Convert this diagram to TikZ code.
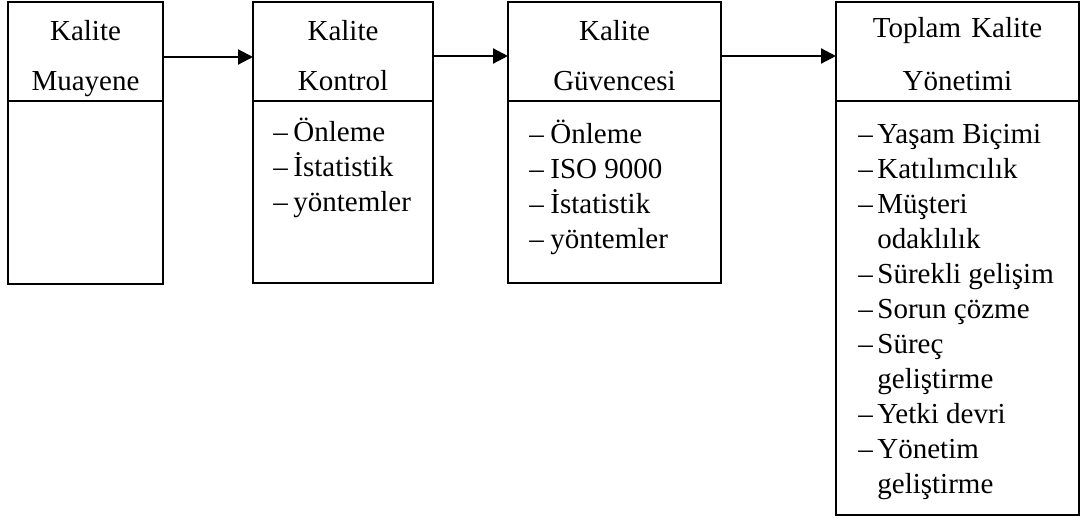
\documentclass[tikz,border=0pt]{standalone}
\usepackage{fontspec}
\setmainfont{Liberation Serif}
\usetikzlibrary{arrows.meta}

\begin{document}
\begin{tikzpicture}[x=0.5pt,y=-0.5pt,
  panel/.style={draw, line width=1.1pt, inner sep=0pt, outer sep=0pt, anchor=north west},
  txt/.style={inner sep=0pt, font=\fontsize{14.5}{17.5}\selectfont},
  head/.style={txt, anchor=base},
  item/.style={txt, anchor=base west},
  flow/.style={line width=1.1pt, -{Triangle[length=7.5pt,width=7.5pt]}}]
\useasboundingbox (0,0) rectangle (1083,520);

% stage boxes: heading part and body part
\node[panel, minimum width=77.5pt,  minimum height=49.5pt]  (t1) at (8,2)   {};
\node[panel, minimum width=77.5pt,  minimum height=91.5pt]  (b1) at (8,101) {};
\node[panel, minimum width=90pt,    minimum height=49.5pt]  (t2) at (253,2)   {};
\node[panel, minimum width=90pt,    minimum height=91pt]    (b2) at (253,101) {};
\node[panel, minimum width=106.5pt, minimum height=49.5pt]  (t3) at (508,2)   {};
\node[panel, minimum width=106.5pt, minimum height=91pt]    (b3) at (508,101) {};
\node[panel, minimum width=121.5pt, minimum height=49.5pt]  (t4) at (836,2)   {};
\node[panel, minimum width=121.5pt, minimum height=207pt]   (b4) at (836,101) {};

% headings
\node[head] (h1a) at (85.5,40) {Kalite};
\node[head] (h1b) at (85.5,90) {Muayene};
\node[head] (h2a) at (343,40) {Kalite};
\node[head] (h2b) at (343,90) {Kontrol};
\node[head] (h3a) at (614.5,40) {Kalite};
\node[head] (h3b) at (614.5,90) {Güvencesi};
\node[head] (h4a) at (957.5,37) {Toplam\hspace{0.35em}Kalite};
\node[head] (h4b) at (957.5,90) {Yönetimi};

% Kalite Kontrol
\node[item] (d2a) at (273,141) {–};  \node[item] (i2a) at (293,141) {Önleme};
\node[item] (d2b) at (273,176) {–};  \node[item] (i2b) at (293,176) {İstatistik};
\node[item] (d2c) at (273,211) {–};  \node[item] (i2c) at (293,211) {yöntemler};

% Kalite Güvencesi
\node[item] (d3a) at (529,143) {–};  \node[item] (i3a) at (550,143) {Önleme};
\node[item] (d3b) at (529,178) {–};  \node[item] (i3b) at (550,178) {ISO 9000};
\node[item] (d3c) at (529,213) {–};  \node[item] (i3c) at (550,213) {İstatistik};
\node[item] (d3d) at (529,248) {–};  \node[item] (i3d) at (550,248) {yöntemler};

% Toplam Kalite Yönetimi
\node[item] (d4a) at (858,143) {–};  \node[item] (i4a) at (877,143) {Yaşam Biçimi};
\node[item] (d4b) at (858,178) {–};  \node[item] (i4b) at (877,178) {Katılımcılık};
\node[item] (d4c) at (858,213) {–};  \node[item] (i4c) at (877,213) {Müşteri};
                                     \node[item] (i4d) at (877,248) {odaklılık};
\node[item] (d4e) at (858,283) {–};  \node[item] (i4e) at (877,283) {Sürekli gelişim};
\node[item] (d4f) at (858,318) {–};  \node[item] (i4f) at (877,318) {Sorun çözme};
\node[item] (d4g) at (858,353) {–};  \node[item] (i4g) at (877,353) {Süreç};
                                     \node[item] (i4h) at (877,388) {geliştirme};
\node[item] (d4i) at (858,423) {–};  \node[item] (i4i) at (877,423) {Yetki devri};
\node[item] (d4j) at (858,458) {–};  \node[item] (i4j) at (877,458) {Yönetim};
                                     \node[item] (i4k) at (877,493) {geliştirme};

% flow between stages
\draw[flow] ([yshift=-2.75pt]t1.east) -- ([yshift=-2.75pt]t2.west);
\draw[flow] ([yshift=-2.25pt]t2.east) -- ([yshift=-2.25pt]t3.west);
\draw[flow] ([yshift=-2.25pt]t3.east) -- ([yshift=-2.25pt]t4.west);
\end{tikzpicture}
\end{document}
